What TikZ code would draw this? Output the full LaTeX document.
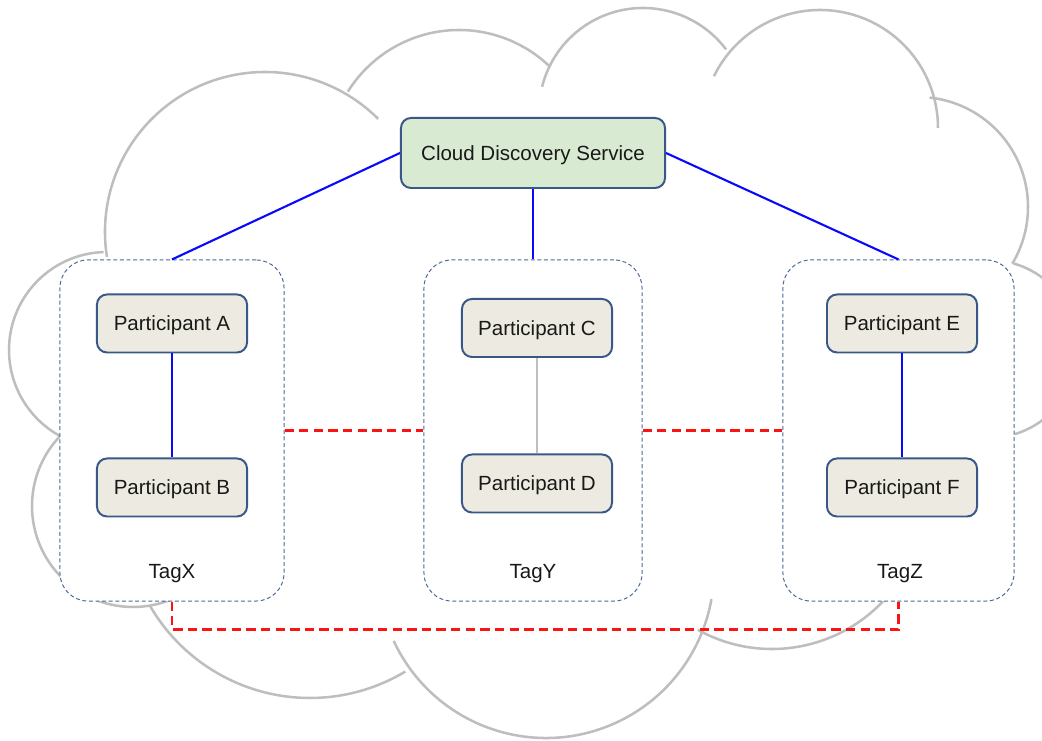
\documentclass[tikz,border=0pt]{standalone}
\usepackage{fontspec}
\setmainfont{Liberation Sans}
\usetikzlibrary{calc}
\definecolor{cloudgray}{RGB}{190,190,190}
\definecolor{nodeborder}{RGB}{58,88,135}
\definecolor{partfill}{RGB}{237,235,225}
\definecolor{servicefill}{RGB}{217,234,211}
\definecolor{tagborder}{RGB}{75,105,150}
\definecolor{linkblue}{RGB}{10,10,250}
\definecolor{peerred}{RGB}{250,20,20}
\definecolor{textblack}{RGB}{25,25,25}
\tikzset{
every picture/.style={x=0.025cm, y=0.025cm},
%%%%%%%%%%  Node styles
participant/.style={draw=nodeborder, line width=1.4pt, fill=partfill,
                    rounded corners=0.25cm, minimum width=3.75cm,
                    minimum height=1.45cm, inner sep=0pt, text=textblack,
                    text height=10.4pt, text depth=0pt,
                    font=\fontsize{14.6}{17}\selectfont},
service/.style={participant, fill=servicefill, minimum width=6.6cm,
                minimum height=1.75cm},
tagbox/.style={draw=tagborder, line width=0.7pt,
               dash pattern=on 2.8pt off 1.9pt, fill=white,
               rounded corners=0.7cm, inner sep=0pt},
taglabel/.style={text=textblack, text height=10.4pt, text depth=0pt,
                 font=\fontsize{14.6}{17}\selectfont},
%%%% different line styles:
cloudline/.style={draw=cloudgray, line width=1.8pt},
link/.style={draw=linkblue, line width=1.5pt},
weaklink/.style={draw=cloudgray, line width=1.4pt},
peerlink/.style={draw=peerred, line width=1.6pt,
                 dash pattern=on 6.6pt off 3.8pt}
}

\begin{document}
\begin{tikzpicture}
\useasboundingbox (0,0) rectangle (1042,741);
% the cloud
\draw[cloudline] (265,509) ++(189:160) arc[start angle=189, end angle=45, radius=160];
\draw[cloudline] (459,580) ++(148:131) arc[start angle=148, end angle=46, radius=131];
\draw[cloudline] (643,629) ++(166:104) arc[start angle=166, end angle=37, radius=104];
\draw[cloudline] (820,613) ++(154:118) arc[start angle=154, end angle=0, radius=118];
\draw[cloudline] (918,534) ++(84:110) arc[start angle=84, end angle=-31, radius=110];
\draw[cloudline] (989,392) ++(74:89) arc[start angle=74, end angle=-73, radius=89];
\draw[cloudline] (107,391) ++(92:98) arc[start angle=92, end angle=250, radius=98];
\draw[cloudline] (133,235) ++(130:101) arc[start angle=130, end angle=292, radius=101];
\draw[cloudline] (310,228) ++(210:185) arc[start angle=210, end angle=301, radius=185];
\draw[cloudline] (546,171) ++(205:168) arc[start angle=205, end angle=350, radius=168];
\draw[cloudline] (772,245) ++(241:153) arc[start angle=241, end angle=330, radius=153];

% tag groups
\node[tagbox, minimum width=5.6cm, minimum height=8.525cm] (boxX) at (172,310.5) {};
\node[tagbox, minimum width=5.45cm, minimum height=8.525cm] (boxY) at (533,310.5) {};
\node[tagbox, minimum width=5.775cm, minimum height=8.525cm] (boxZ) at (898.5,310.5) {};
\node[taglabel] (tagX) at (172,170) {TagX};
\node[taglabel] (tagY) at (533,170) {TagY};
\node[taglabel] (tagZ) at (900,170) {TagZ};

% participants
\node[service] (cds) at (533,588) {Cloud Discovery Service};
\node[participant] (pA) at (172,417.5) {Participant A};
\node[participant] (pB) at (172,253.5) {Participant B};
\node[participant] (pC) at (537,413) {Participant C};
\node[participant] (pD) at (537,257.5) {Participant D};
\node[participant] (pE) at (902,417.5) {Participant E};
\node[participant] (pF) at (902,253.5) {Participant F};

\draw[link] (cds.west) -- (boxX.north);
\draw[link] (cds.south) -- (boxY.north);
\draw[link] (cds.east) -- (boxZ.north);
\draw[link] (pA) -- (pB);
\draw[weaklink] (pC) -- (pD);
\draw[link] (pE) -- (pF);
\draw[peerlink] (boxX.east) -- (boxY.west);
\draw[peerlink] (boxY.east) -- (boxZ.west);
\draw[peerlink] (boxX.south) -- ++(0,-28) -| (boxZ.south);
\end{tikzpicture}
\end{document}
